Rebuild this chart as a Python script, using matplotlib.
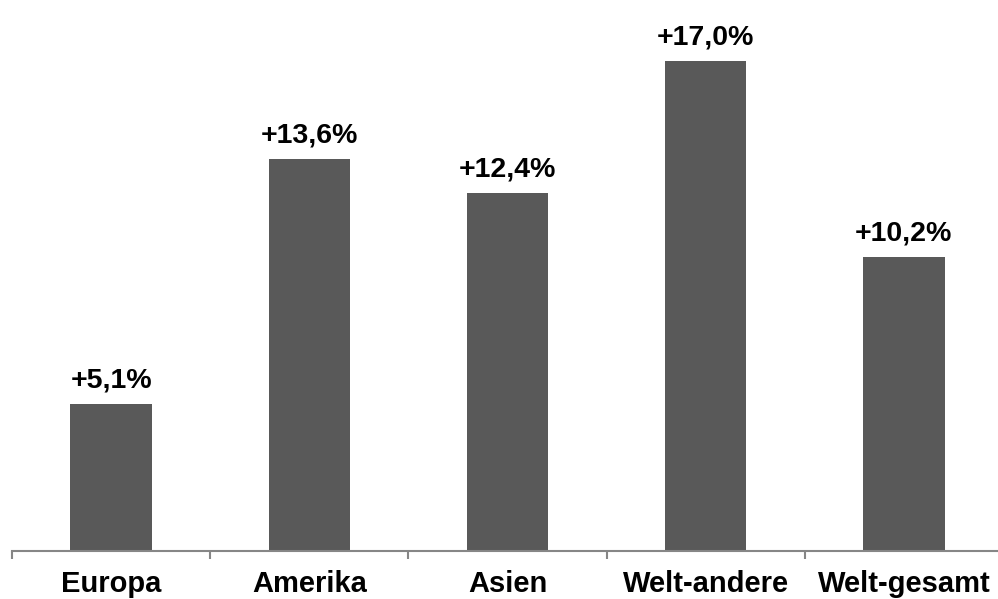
import numpy as np
import matplotlib.pyplot as plt

plt.rcParams['font.family'] = ['Liberation Sans', 'DejaVu Sans']

regionen = ["Europa", "Amerika", "Asien", "Welt-andere", "Welt-gesamt"]
wachstum = [5.1, 13.6, 12.4, 17.0, 10.2]
beschriftung = ["+5,1%", "+13,6%", "+12,4%", "+17,0%", "+10,2%"]

fig = plt.figure(figsize=(9.98, 5.99), dpi=100)
ax = fig.add_axes([0.012, 0.0801, 0.993, 0.9199])

x = np.arange(len(regionen))
balken = ax.bar(x, wachstum, width=0.41, color='#595959')

for b, txt in zip(balken, beschriftung):
    ax.annotate(txt, (b.get_x() + b.get_width() / 2, b.get_height()),
                xytext=(0, 7.5), textcoords='offset points',
                ha='center', va='bottom', fontsize=20.5, fontweight='bold')

ax.set_xlim(-0.5, len(regionen) - 0.5)
ax.set_ylim(0, 19.1)

# Kategorienamen mittig, Trennstriche an den Grenzen
ax.set_xticks(x)
ax.set_xticklabels(regionen, fontsize=21, fontweight='bold')
ax.tick_params(axis='x', which='major', length=0, pad=14)
ax.set_xticks(np.arange(-0.5, len(regionen)), minor=True)
ax.tick_params(axis='x', which='minor', length=6, width=1.5, color='#868686')

ax.set_yticks([])
for s in ['top', 'right', 'left']:
    ax.spines[s].set_visible(False)
ax.spines['bottom'].set_color('#868686')
ax.spines['bottom'].set_linewidth(1.5)

fig.savefig('out.png', dpi=100)
